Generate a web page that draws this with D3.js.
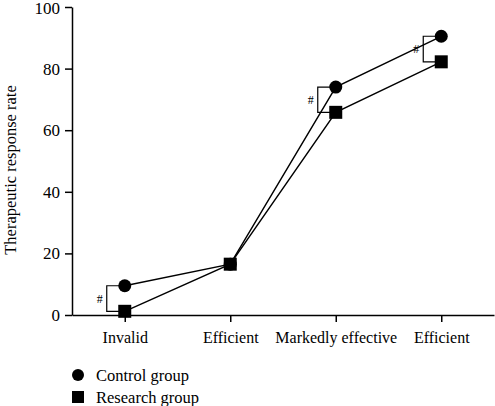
<!DOCTYPE html>
<html><head><meta charset="utf-8">
<script src="https://cdn.jsdelivr.net/npm/d3@7"></script>
<style>body{margin:0;background:#fff}svg{display:block}</style>
</head><body>
<svg id="c" width="495" height="406" font-family="Liberation Serif"></svg>
<script>
const categories = ["Invalid", "Efficient", "Markedly effective", "Efficient"];
const controlValues = [9.5, 16.5, 74, 90.5];
const researchValues = [1.2, 16.5, 65.8, 82.2];
const yTicks = [0, 20, 40, 60, 80, 100];
const sigMarks = [0, 2, 3];
const seriesNames = ["Control group", "Research group"];

const svg = d3.select("#c");
const font = "Liberation Serif";
const x = d3.scaleLinear().domain([-0.5, 3.5]).range([72, 494]);
const y = d3.scaleLinear().domain([0, 100]).range([315, 7]);

const yAxis = svg.append("g").attr("transform", "translate(72,0)")
  .call(d3.axisLeft(y).tickValues(yTicks).tickSize(7).tickSizeOuter(0).tickPadding(5));
const xAxis = svg.append("g").attr("transform", "translate(0,315)")
  .call(d3.axisBottom(x).tickValues(d3.range(categories.length)).tickFormat(i => categories[i]).tickSize(7).tickSizeOuter(0).tickPadding(10));
[yAxis, xAxis].forEach(g => {
  g.attr("font-family", font);
  g.selectAll("path,line").attr("stroke", "#000").attr("stroke-width", 1.5);
  g.selectAll("text").attr("font-family", font).attr("font-size", 17).attr("fill", "#000");
});
xAxis.selectAll("text").attr("font-size", 16);
yAxis.selectAll("text").filter(d => d === 100).attr("dy", "0.4em");

svg.append("text").attr("transform", "translate(16,170) rotate(-90)")
  .attr("text-anchor", "middle").attr("font-family", font).attr("font-size", 16.5)
  .text("Therapeutic response rate");

const line = d3.line().x((d, i) => x(i)).y(d => y(d));
[controlValues, researchValues].forEach(v => {
  svg.append("path").attr("d", line(v)).attr("fill", "none").attr("stroke", "#000").attr("stroke-width", 1.4);
});

// significance brackets
sigMarks.forEach(i => {
  const cx = x(i), y1 = y(controlValues[i]), y2 = y(researchValues[i]);
  const bx = cx - 18;
  svg.append("path").attr("d", `M${cx},${y1}H${bx}V${y2}H${cx}`)
    .attr("fill", "none").attr("stroke", "#000").attr("stroke-width", 1.2);
  svg.append("text").attr("x", bx - 7).attr("y", (y1 + y2) / 2 + 4)
    .attr("text-anchor", "middle").attr("font-family", font).attr("font-size", 12).text("#");
});

svg.append("g").selectAll("circle").data(controlValues).join("circle")
  .attr("cx", (d, i) => x(i)).attr("cy", d => y(d)).attr("r", 6.5).attr("fill", "#000");
svg.append("g").selectAll("rect").data(researchValues).join("rect")
  .attr("x", (d, i) => x(i) - 6.5).attr("y", d => y(d) - 6.5).attr("width", 13).attr("height", 13).attr("fill", "#000");

// legend
const lg = svg.append("g");
lg.append("circle").attr("cx", 78).attr("cy", 375).attr("r", 6).attr("fill", "#000");
lg.append("rect").attr("x", 72).attr("y", 391).attr("width", 12).attr("height", 12).attr("fill", "#000");
seriesNames.forEach((n, i) => {
  lg.append("text").attr("x", 96).attr("y", 381 + i * 22).attr("font-family", font).attr("font-size", 16.5).text(n);
});
</script>
</body></html>
